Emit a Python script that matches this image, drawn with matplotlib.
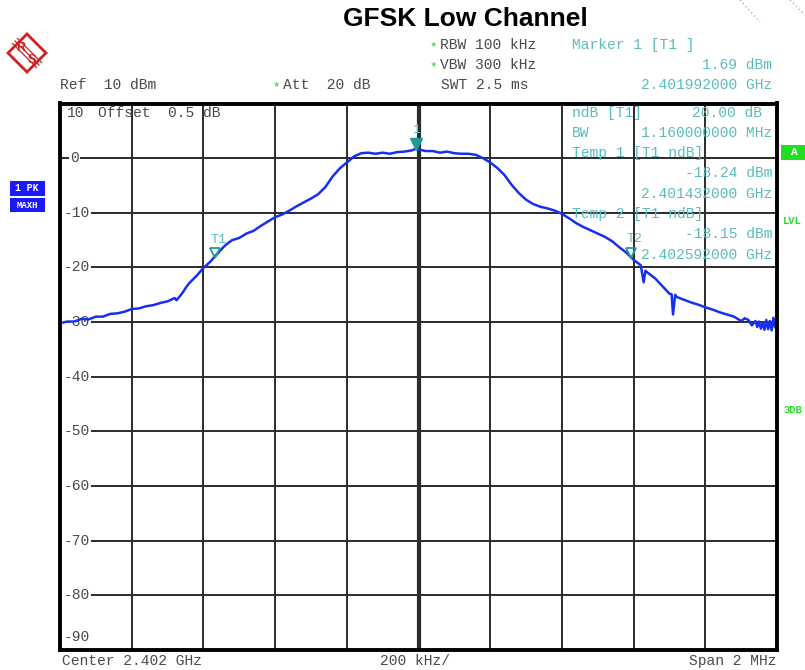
import matplotlib
matplotlib.use("Agg")
import matplotlib.pyplot as plt
from matplotlib.patches import Rectangle, Polygon

# ---------------- data ----------------
freq_khz = [-1000, -980, -960, -940, -920, -900, -880, -860, -840, -820,
            -800, -780, -760, -740, -720, -700, -680, -675, -660, -650,
            -640, -620, -600, -580, -560, -540, -520, -500, -480, -460,
            -440, -420, -400, -380, -360, -340, -320, -300, -280, -260,
            -240, -220, -200, -180, -160, -140, -120, -100, -80, -60,
            -40, -20, -8, 0, 20, 40, 60, 80, 100, 120,
            140, 160, 180, 200, 220, 240, 260, 280, 300, 320,
            340, 360, 380, 400, 420, 440, 460, 480, 500, 520,
            540, 560, 580, 600, 620, 628, 633, 640, 660, 680,
            700, 706, 710, 716, 720, 740, 760, 780, 800, 820,
            840, 860, 880, 900, 910, 920, 930, 940, 945, 950, 955, 960,
            965, 970, 975, 980, 985, 990, 995, 1000]
level_dbm = [-30.2, -29.9, -29.9, -29.4, -29.5, -29.0, -29.0, -28.5, -28.4, -28.1,
             -27.6, -27.5, -27.1, -26.9, -26.5, -26.2, -25.6, -26.0, -24.8, -23.8,
             -22.9, -21.6, -20.1, -18.9, -17.4, -16.0, -15.0, -14.6, -13.8, -13.3,
             -12.4, -11.6, -10.8, -10.3, -9.6, -8.8, -8.1, -7.4, -6.6, -5.3,
             -3.4, -1.9, -0.8, 0.3, 0.9, 1.0, 0.8, 1.0, 0.8, 1.1,
             1.2, 1.4, 1.69, 1.6, 1.3, 1.3, 1.0, 1.2, 0.9, 0.8,
             0.8, 0.6, 0.0, -0.8, -1.8, -3.1, -4.9, -6.4, -7.6, -8.4,
             -8.9, -9.2, -9.6, -10.2, -11.0, -11.9, -12.6, -13.2, -13.8, -14.4,
             -15.2, -16.3, -17.3, -18.6, -19.6, -22.7, -20.6, -21.0, -22.0, -23.4,
             -24.8, -24.9, -28.6, -25.0, -25.4, -25.9, -26.4, -26.8, -27.3, -27.7,
             -28.2, -28.6, -29.0, -29.8, -29.3, -29.6, -30.6, -29.8, -30.9, -29.9, -31.2, -30.1,
             -31.4, -29.6, -31.3, -29.8, -31.5, -29.2, -31.0, -30.4]

marker_freq = [-8, -568, 592]
marker_level = [1.69, -18.24, -18.15]
marker_names = ["1", "T1", "T2"]

y_ticks = [0, -10, -20, -30, -40, -50, -60, -70, -80]

W, H = 805, 670
fig = plt.figure(figsize=(W / 100, H / 100), dpi=100)

def fx(x):
    return x / W

def fy(y):
    return 1 - y / H

L, R, T, B = 60, 777, 103.5, 650
ax = fig.add_axes([fx(L), fy(B), fx(R) - fx(L), fy(T) - fy(B)])
ax.set_xlim(-1000, 1000)
ax.set_ylim(-90, 10)
ax.set_xticks([])
ax.set_yticks([])
for s in ax.spines.values():
    s.set_linewidth(2.8)
    s.set_color("black")
    s.set_zorder(6)
ax.patch.set_alpha(0)

grid_c = "#2b2b2b"
for xv in range(-800, 1000, 200):
    ax.axvline(xv, color=grid_c, lw=1.4 if xv != 0 else 3.0, zorder=2)
for yv in range(-80, 10, 10):
    ax.axhline(yv, color=grid_c, lw=1.4, zorder=2)

mono = "Liberation Mono"
FS = 10.5
gray = "#4a4a4a"
cyan = "#5abcbc"
teal = "#1f9a9a"

def ftext(x, y, s, color=gray, ha="left", z=0.5, **kw):
    t = fig.text(fx(x), fy(y), s, family=mono, fontsize=FS, color=color, va="center", ha=ha, **kw)
    t.set_zorder(z)
    return t

# y labels inside plot
for v in y_ticks:
    xoff = -972 if v == 0 else -990
    ax.text(xoff, v, f"{v}", family=mono, fontsize=FS, color=gray,
            va="center", ha="left", zorder=3,
            bbox=dict(facecolor="white", edgecolor="none", pad=0.8))
ftext(67, 113, "10")
ftext(98, 113, "Offset  0.5 dB")
ftext(64, 637, "-90")

# trace
ax.plot(freq_khz, level_dbm, color="#1630ee", lw=1.8, zorder=4, solid_joinstyle="round")

# markers
ax.plot([marker_freq[0]], [marker_level[0] + 0.9], marker="v", ms=8, color=teal, zorder=5, mec=teal)
ax.text(marker_freq[0], marker_level[0] + 3.4, marker_names[0], family=mono, fontsize=9.5, color=cyan,
        ha="center", va="center", zorder=5)
for f, lv, nm in zip(marker_freq[1:], marker_level[1:], marker_names[1:]):
    ax.plot([f], [lv + 0.8], marker="v", ms=7.5, mfc="none", mec=teal, mew=1.3, zorder=5)
    ax.text(f + 10, lv + 3.3, nm, family=mono, fontsize=9.5, color=cyan, ha="center", va="center", zorder=1)

# marker table inside plot
ftext(572, 113, "ndB [T1]", color=cyan)
ftext(762, 113, "20.00 dB", color=cyan, ha="right")
ftext(572, 133, "BW", color=cyan)
ftext(772, 133, "1.160000000 MHz", color=cyan, ha="right")
ftext(572, 153, "Temp 1 [T1 ndB]", color=cyan)
ftext(772, 173, "-18.24 dBm", color=cyan, ha="right")
ftext(772, 194, "2.401432000 GHz", color=cyan, ha="right")
ftext(572, 214, "Temp 2 [T1 ndB]", color=cyan)
ftext(772, 234, "-18.15 dBm", color=cyan, ha="right")
ftext(772, 255, "2.402592000 GHz", color=cyan, ha="right")

# header
fig.text(fx(465), fy(19), "GFSK Low Channel", family="Liberation Sans", fontsize=19,
         fontweight="bold", ha="center", va="center", color="black")
star = "#22cc22"
for sx, sy in [(433, 47), (433, 67), (276, 87)]:
    fig.text(fx(sx), fy(sy), "*", color=star, fontsize=9, family=mono, ha="center", va="center")
ftext(440, 45, "RBW 100 kHz")
ftext(440, 65, "VBW 300 kHz")
ftext(441, 85, "SWT 2.5 ms")
ftext(60, 85, "Ref  10 dBm")
ftext(283, 85, "Att  20 dB")
ftext(572, 45, "Marker 1 [T1 ]", color=cyan)
ftext(772, 65, "1.69 dBm", color=cyan, ha="right")
ftext(772, 85, "2.401992000 GHz", color=cyan, ha="right")

# footer
ftext(62, 661, "Center 2.402 GHz")
ftext(380, 661, "200 kHz/")
ftext(776, 661, "Span 2 MHz", ha="right")

# side boxes
blue = "#1a1aff"
fig.patches.append(Rectangle((fx(10), fy(196)), fx(35), fy(181) - fy(196), transform=fig.transFigure,
                             facecolor=blue, edgecolor="none"))
fig.patches.append(Rectangle((fx(10), fy(212)), fx(35), fy(198) - fy(212), transform=fig.transFigure,
                             facecolor=blue, edgecolor="none"))
fig.text(fx(27), fy(188), "1 PK", family=mono, fontsize=7, color="white", fontweight="bold", ha="center", va="center")
fig.text(fx(27), fy(205), "MAXH", family=mono, fontsize=6.5, color="white", fontweight="bold", ha="center", va="center")
green = "#22dd22"
fig.patches.append(Rectangle((fx(781), fy(160)), fx(24), fy(145) - fy(160), transform=fig.transFigure,
                             facecolor=green, edgecolor="none"))
fig.text(fx(794), fy(152), "A", family=mono, fontsize=8, color="white", fontweight="bold", ha="center", va="center")
fig.text(fx(783), fy(221), "LVL", family=mono, fontsize=7.5, color=green, fontweight="bold", va="center")
fig.text(fx(783), fy(410), "3DB", family=mono, fontsize=7.5, color=green, fontweight="bold", va="center")

# R&S logo
red = "#cc2222"
cx, cy, r = 27, 53, 19
diamond = Polygon([(fx(cx - r), fy(cy)), (fx(cx), fy(cy - r)), (fx(cx + r), fy(cy)), (fx(cx), fy(cy + r))],
                  closed=True, transform=fig.transFigure, facecolor="none", edgecolor=red, lw=2)
fig.patches.append(diamond)
for d in (-2.5, 0, 2.5):
    fig.lines.append(plt.Line2D([fx(cx - 12 + d), fx(cx + 12 + d)], [fy(cy - 12 - d), fy(cy + 12 - d)],
                                transform=fig.transFigure, color=red, lw=0.9))
fig.text(fx(cx - 6), fy(cy - 5), "R", color=red, fontsize=9, fontweight="bold", ha="center", va="center",
         family="Liberation Sans")
fig.text(fx(cx + 5), fy(cy + 7), "S", color=red, fontsize=9, fontweight="bold", ha="center", va="center",
         family="Liberation Sans")

# decorative dotted lines at top right
fig.lines.append(plt.Line2D([fx(740), fx(760)], [fy(0), fy(22)], transform=fig.transFigure,
                            color="#b0b0b0", lw=1, ls=(0, (1, 2))))
fig.lines.append(plt.Line2D([fx(790), fx(805)], [fy(0), fy(15)], transform=fig.transFigure,
                            color="#b0b0b0", lw=1, ls=(0, (1, 2))))

fig.savefig("out.png", dpi=100, facecolor="white")
